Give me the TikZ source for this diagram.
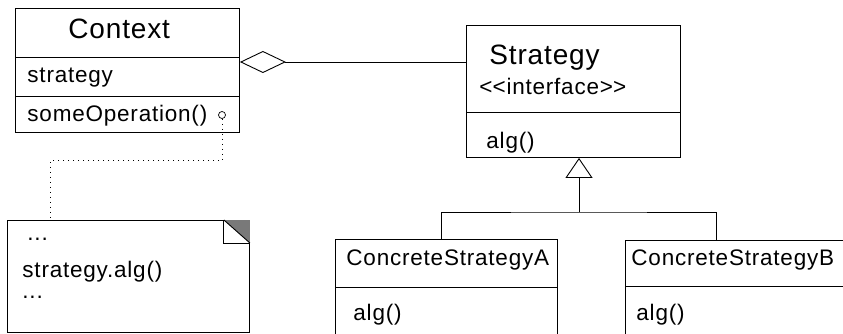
\documentclass[tikz,border=0pt]{standalone}
\usepackage{fontspec}
\setmainfont{Liberation Sans}
\newfontfamily\umlfont[LetterSpace=3.5]{Liberation Sans}
\newfontfamily\umltitle[LetterSpace=3]{Liberation Sans}
\usetikzlibrary{arrows.meta,positioning,calc}

\begin{document}
\begin{tikzpicture}[x=1pt,y=-1pt,line width=0.9pt,
    cls/.style={draw,anchor=north west,inner sep=0pt},
    txt/.style={anchor=base west,inner sep=0pt,font=\umlfont\fontsize{22.5}{26}\selectfont},
    ttl/.style={anchor=base west,inner sep=0pt,font=\umltitle\fontsize{28}{32}\selectfont},
    notelink/.style={line width=1pt,dash pattern=on 1pt off 4pt}]

    \useasboundingbox (0,0) rectangle (843,334);
    \clip (0,0) rectangle (843,334);

    \node[cls,minimum width=224pt,minimum height=124pt] (context) at (15,8) {};
    \node[cls,minimum width=214pt,minimum height=132pt] (strategy) at (466,25) {};
    \node[cls,minimum width=222pt,minimum height=130pt] (conA) at (335,239) {};
    \node[cls,minimum width=260pt,minimum height=130pt] (conB) at (625,240) {};
    \node[cls,minimum width=242pt,minimum height=112pt] (note) at (7,220) {};

    \draw (context.west |- 0,57) -- (context.east |- 0,57);
    \draw (context.west |- 0,96) -- (context.east |- 0,96);
    \draw (strategy.west |- 0,112) -- (strategy.east |- 0,112);
    \draw (conA.west |- 0,287) -- (conA.east |- 0,287);
    \draw (conB.west |- 0,286) -- (conB.east |- 0,286);

    \node[ttl] (ctxname) at (68,39) {Context};
    \node[txt] (ctxattr) at (27,83) {strategy};
    \node[txt] (ctxop) at (27,122) {someOperation()};
    \node[ttl] (stname) at (489,65) {Strategy};
    \node[txt] (stster) at (479,95) {<\kern0pt<interface>\kern0pt>};
    \node[txt] (stop) at (486,149) {alg()};
    \node[txt] (aname) at (346,265) {ConcreteStrategyA};
    \node[txt] (aop) at (353,320) {alg()};
    \node[txt] (bname) at (631,265) {ConcreteStrategyB};
    \node[txt] (bop) at (636,320) {alg()};
    \node[txt] (ndots) at (27,240) {...};
    \node[txt] (ncall) at (22,277) {strategy.alg()};
    \node[txt] (nend) at (22,298) {...};

    \fill[gray!95!black] ([xshift=-26pt]note.north east) -- (note.north east) -- ([yshift=-23pt]note.north east) -- cycle;
    \draw ([xshift=-26pt]note.north east) -- ([xshift=-26pt,yshift=-23pt]note.north east) -- ([yshift=-23pt]note.north east);
    \draw ([xshift=-26pt]note.north east) -- ([yshift=-23pt]note.north east);

    \coordinate (agg) at (context.east |- 0,62);
    \draw[{Diamond[open,length=46pt,width=22pt]}-] (agg) -- (strategy.west |- agg);

    \coordinate (fork) at (579,212);
    \draw[-{Triangle[open,length=20pt,width=27pt]}] (fork) -- (fork |- strategy.south);
    \draw ([xshift=-5pt]conA.north) |- (fork) -| ([xshift=91pt]conB.north west);

    \node[circle,draw,line width=0.7pt,inner sep=0pt,minimum size=7pt] (hook) at (222,115) {};
    \draw[notelink] (hook.south) -- ++(0,42) -| ([xshift=43pt]note.north west);
\end{tikzpicture}
\end{document}
